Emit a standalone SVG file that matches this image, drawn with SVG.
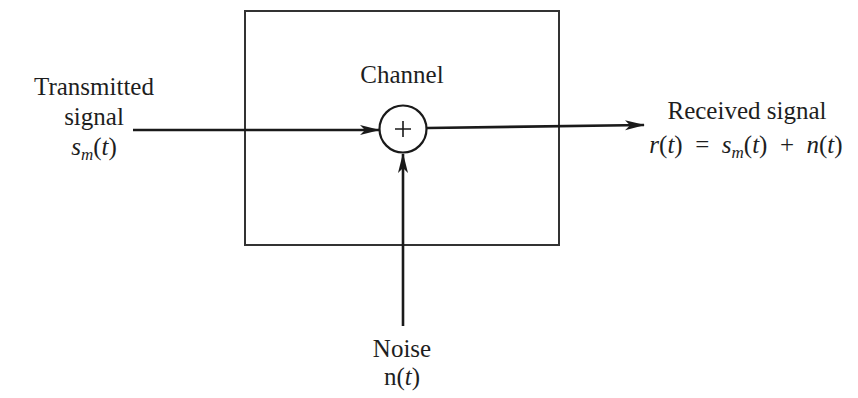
<svg xmlns="http://www.w3.org/2000/svg" width="858" height="398" viewBox="0 0 858 398">
<style>
text{font-family:"Liberation Serif","Times New Roman",serif;font-size:25px;fill:#1e1e1e;text-anchor:middle}
.it{font-style:italic}
.sub{font-size:17px;font-style:italic}
.ln{stroke:#1a1a1a;stroke-width:2.6;fill:none}
</style>
<defs>
<marker id="ah" markerWidth="20" markerHeight="12" refX="19" refY="6" orient="auto" markerUnits="userSpaceOnUse">
<path d="M0,1 L20,6 L0,11 L5,6 Z" fill="#1a1a1a"/>
</marker>
</defs>
<rect width="858" height="398" fill="#fff"/>
<g id="channel">
<rect x="245" y="11" width="314" height="234" fill="none" stroke="#333" stroke-width="2"/>
<text x="402" y="83">Channel</text>
</g>
<g id="adder">
<circle cx="403" cy="129" r="23.5" fill="#fff" stroke="#1a1a1a" stroke-width="2.2"/>
<path d="M395,129 H411 M403,121 V137" stroke="#1a1a1a" stroke-width="1.6"/>
</g>
<g id="transmitted">
<text x="94" y="95">Transmitted</text>
<text x="94" y="125">signal</text>
<text x="94" y="155"><tspan class="it">s</tspan><tspan class="sub" dy="5">m</tspan><tspan dy="-5">(</tspan><tspan class="it">t</tspan>)</text>
</g>
<g id="received">
<text x="747" y="119">Received signal</text>
<text x="746" y="153" xml:space="preserve"><tspan class="it">r</tspan>(<tspan class="it">t</tspan>)  =  <tspan class="it">s</tspan><tspan class="sub" dy="5">m</tspan><tspan dy="-5">(</tspan><tspan class="it">t</tspan>)  +  <tspan class="it">n</tspan>(<tspan class="it">t</tspan>)</text>
</g>
<g id="noise">
<text x="402" y="357">Noise</text>
<text x="402" y="385">n(<tspan class="it">t</tspan>)</text>
</g>
<g id="connectors">
<line class="ln" x1="133" y1="130" x2="379" y2="130" marker-end="url(#ah)"/>
<line class="ln" x1="427" y1="128" x2="644" y2="125" marker-end="url(#ah)"/>
<line class="ln" x1="403" y1="326" x2="403" y2="154" marker-end="url(#ah)"/>
</g>
</svg>
